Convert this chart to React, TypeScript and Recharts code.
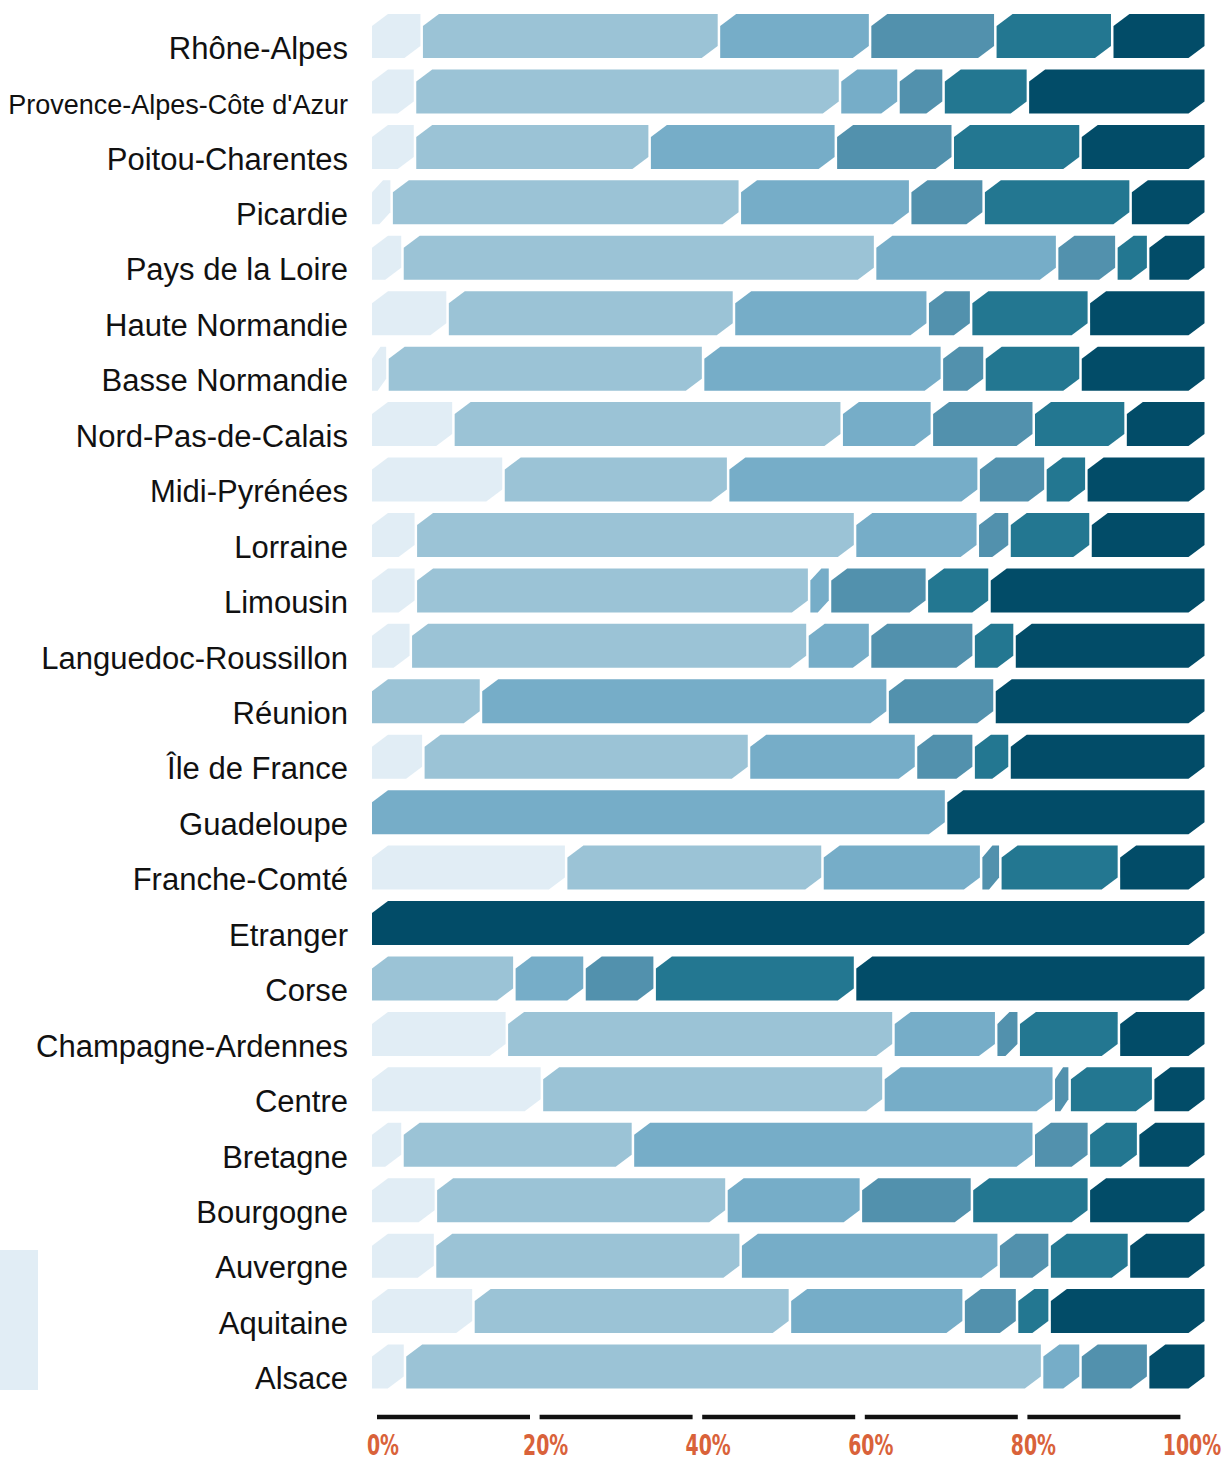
import React from 'react';
import { Bar, BarChart, XAxis, YAxis } from 'recharts';

// regions, top to bottom
const regions = [
  'Rhône-Alpes',
  "Provence-Alpes-Côte d'Azur",
  'Poitou-Charentes',
  'Picardie',
  'Pays de la Loire',
  'Haute Normandie',
  'Basse Normandie',
  'Nord-Pas-de-Calais',
  'Midi-Pyrénées',
  'Lorraine',
  'Limousin',
  'Languedoc-Roussillon',
  'Réunion',
  'Île de France',
  'Guadeloupe',
  'Franche-Comté',
  'Etranger',
  'Corse',
  'Champagne-Ardennes',
  'Centre',
  'Bretagne',
  'Bourgogne',
  'Auvergne',
  'Aquitaine',
  'Alsace',
];

// share of each band (%), lightest to darkest
const band1 = [6.1, 5.3, 5.3, 2.5, 3.8, 9.2, 2.0, 9.9, 15.9, 5.4, 5.4, 4.8, 0, 6.3, 0, 23.4, 0, 0, 16.3, 20.5, 3.8, 7.8, 7.7, 12.3, 4.1];
const band2 = [35.6, 50.9, 28.1, 41.7, 56.6, 34.3, 37.8, 46.5, 26.9, 52.6, 47.1, 47.5, 13.2, 39.0, 0, 30.7, 0, 17.2, 46.3, 40.9, 27.6, 34.8, 36.6, 37.9, 76.3];
const band3 = [18.1, 7.0, 22.3, 20.4, 21.8, 23.2, 28.6, 10.8, 30.0, 14.7, 2.5, 7.5, 48.7, 20.0, 68.9, 19.0, 0, 8.4, 12.3, 20.4, 48.0, 16.1, 30.9, 20.8, 4.6];
const band4 = [15.0, 5.4, 14.0, 8.8, 7.1, 5.2, 5.1, 12.2, 8.0, 3.8, 11.6, 12.4, 12.8, 6.9, 0, 2.3, 0, 8.4, 2.7, 1.9, 6.6, 13.3, 6.1, 6.4, 8.1];
const band5 = [14.0, 10.1, 15.3, 17.6, 3.8, 14.1, 11.5, 11.0, 4.9, 9.7, 7.5, 4.9, 0, 4.3, 0, 14.2, 0, 24.0, 12.0, 10.0, 5.9, 14.0, 9.5, 3.9, 0];
const band6 = [11.3, 21.3, 15.0, 9.0, 6.9, 14.0, 15.0, 9.6, 14.3, 13.8, 25.9, 22.9, 25.3, 23.5, 31.1, 10.4, 100, 42.0, 10.4, 6.3, 8.1, 14.0, 9.2, 18.7, 6.9];

const pctTicks = [0, 20, 40, 60, 80, 100];

const colors = ['#e1edf5', '#9bc3d6', '#76adc8', '#5291ad', '#237791', '#024c68'];
const bandKeys = ['b1', 'b2', 'b3', 'b4', 'b5', 'b6'];

const data = regions.map((name, i) => ({
  name,
  b1: band1[i],
  b2: band2[i],
  b3: band3[i],
  b4: band4[i],
  b5: band5[i],
  b6: band6[i],
}));

// segment with cut top-left and bottom-right corners
function ChamferBar(props: any) {
  const { x, y, width, height, fill } = props;
  if (!width || width < 1) return <g />;
  const w = Math.max(width - 2.5, 1);
  const cx = Math.min(16, w * 0.6);
  const cy = 12;
  const pts = [
    [x + cx, y],
    [x + w, y],
    [x + w, y + height - cy],
    [x + w - cx, y + height],
    [x, y + height],
    [x, y + cy],
  ]
    .map((p) => p.join(','))
    .join(' ');
  return <polygon points={pts} fill={fill} />;
}

function RegionTick(props: any) {
  const { x, y, payload } = props;
  const label = payload.value as string;
  const size = label.length > 22 ? 27 : 31;
  return (
    <text
      x={x - 24}
      y={y + 23}
      textAnchor="end"
      fill="#111"
      fontSize={size}
      fontFamily="'Liberation Sans', Arial, sans-serif"
    >
      {label}
    </text>
  );
}

function PctTick(props: any) {
  const { x, y, payload } = props;
  const v = payload.value as number;
  const cx = v === 100 ? x - 4 : x;
  return (
    <g>
      {v < 100 && <line x1={x - 6} x2={x + 147} y1={y + 23} y2={y + 23} stroke="#111" strokeWidth={4.5} />}
      {/* squeeze horizontally for the condensed look */}
      <g transform={`translate(${cx},0) scale(0.75,1)`}>
        <text
          x={0}
          y={y + 61}
          textAnchor="middle"
          fill="#d9623a"
          fontSize={28}
          fontWeight="bold"
          fontFamily="'DejaVu Sans Condensed', sans-serif"
        >
          {v}%
        </text>
      </g>
    </g>
  );
}

export default function App() {
  return (
    <div style={{ position: 'absolute', left: 0, top: 0, width: 1231, height: 1463, background: '#fff' }}>
      <div style={{ position: 'absolute', left: 0, top: 1250, width: 38, height: 140, background: '#e1edf5' }} />
      <BarChart
        width={1231}
        height={1463}
        data={data}
        layout="vertical"
        margin={{ top: 8, right: 24, bottom: 0, left: 0 }}
        barSize={44}
      >
        <XAxis xAxisId="bars" type="number" domain={[0, 100]} allowDataOverflow hide height={0} />
        <XAxis
          xAxisId="pct"
          type="number"
          domain={[0, 100]}
          allowDataOverflow
          ticks={pctTicks}
          padding={{ left: 11, right: 11 }}
          height={69}
          axisLine={false}
          tickLine={false}
          tickSize={0}
          tickMargin={0}
          interval={0}
          tick={<PctTick />}
        />
        <YAxis
          type="category"
          dataKey="name"
          width={372}
          axisLine={false}
          tickLine={false}
          tickSize={0}
          tickMargin={0}
          interval={0}
          tick={<RegionTick />}
        />
        {bandKeys.map((k, i) => (
          <Bar
            key={k}
            dataKey={k}
            xAxisId="bars"
            stackId="a"
            fill={colors[i]}
            shape={<ChamferBar />}
            isAnimationActive={false}
          />
        ))}
      </BarChart>
    </div>
  );
}
